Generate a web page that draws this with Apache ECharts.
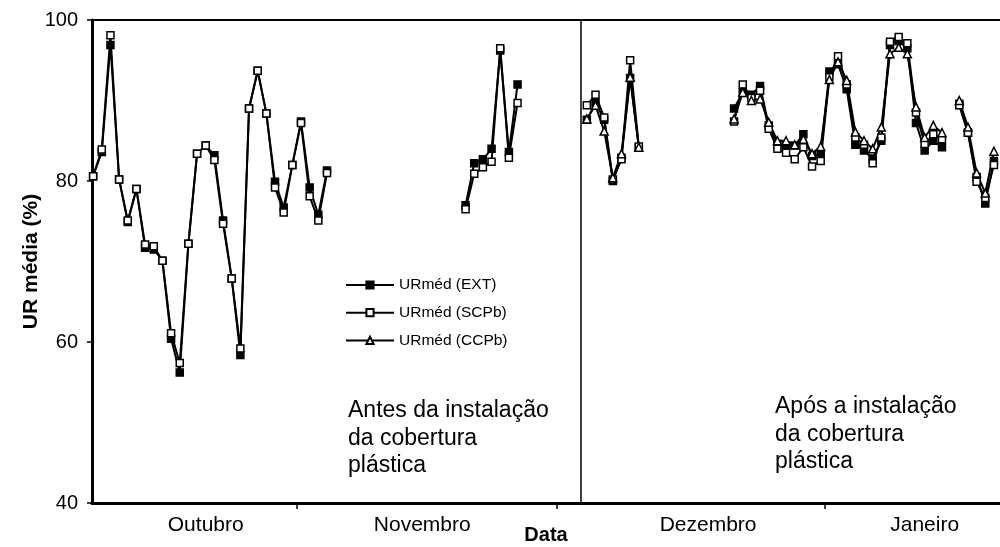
<!DOCTYPE html>
<html>
<head>
<meta charset="utf-8">
<script src="https://cdn.jsdelivr.net/npm/echarts@6/dist/echarts.min.js"></script>
<style>
  html, body { margin: 0; padding: 0; background: #fff; }
  #chart { width: 1000px; height: 547px; }
</style>
</head>
<body>
<div id="chart"></div>
<script>
// Day of season: 1 = 1 October; points sit on their day number.
const days = [
  8, 9, 10, 11, 12, 13, 14, 15, 16, 17, 18, 19, 20, 21, 22, 23, 24, 25, 26, 27, 28, 29, 30, 31, 32, 33, 34, 35,
  51, 52, 53, 54, 55, 56, 57,
  65, 66, 67, 68, 69, 70, 71,
  82, 83, 84, 85, 86, 87, 88, 89, 90, 91, 92, 93, 94, 95, 96, 97, 98, 99, 100, 101, 102, 103, 104, 105, 106,
  108, 109, 110, 111, 112
];

// Mean relative humidity (%), outside (EXT)
const urExt = [
  80.6, 83.6, 96.9, 80.2, 74.9, 79.0, 71.7, 71.5, 70.1, 60.4, 56.2, 72.2, 83.4, 84.4, 83.2, 75.1, 67.9, 58.4, 89.0, 93.7, 88.4, 79.9, 76.7, 82.0, 87.4, 79.2, 75.8, 81.3,
  77.0, 82.2, 82.7, 84.0, 96.2, 83.6, 92.0,
  87.6, 89.7, 87.6, 80.0, 82.9, 92.8, 84.2,
  89.0, 91.0, 90.7, 91.8, 86.9, 84.6, 84.4, 84.4, 85.8, 83.1, 83.3, 93.6, 94.5, 91.4, 84.5, 83.8, 82.8, 85.0, 96.9, 97.4, 96.5, 87.2, 83.8, 85.0, 84.2,
  89.6, 86.0, 80.5, 77.2, 82.5
];

// Mean relative humidity (%), SCPb
const urScpb = [
  80.6, 83.9, 98.1, 80.2, 75.1, 79.0, 72.1, 71.9, 70.1, 61.1, 57.4, 72.2, 83.4, 84.4, 82.6, 74.7, 67.9, 59.2, 89.0, 93.7, 88.4, 79.2, 76.1, 82.0, 87.2, 78.1, 75.1, 81.0,
  76.5, 80.9, 81.7, 82.4, 96.5, 82.9, 89.7,
  89.4, 90.7, 87.9, 80.2, 82.7, 95.0, 84.3,
  87.4, 92.0, 90.3, 91.2, 86.5, 84.0, 83.5, 82.7, 84.2, 81.8, 82.5, 92.9, 95.5, 92.0, 85.4, 84.5, 82.2, 85.4, 97.3, 97.9, 97.1, 88.5, 84.6, 85.8, 85.2,
  89.4, 86.0, 79.9, 77.9, 82.0
];

// Mean relative humidity (%), CCPb (only after the cover went up)
const urCcpb = [
  null, null, null, null, null, null, null, null, null, null, null, null, null, null, null, null, null, null, null, null, null, null, null, null, null, null, null, null,
  null, null, null, null, null, null, null,
  87.7, 89.4, 86.2, 80.4, 83.4, 92.9, 84.2,
  87.7, 91.0, 90.0, 90.2, 87.3, 85.0, 85.0, 84.5, 85.2, 83.4, 84.3, 92.6, 94.8, 92.5, 86.1, 85.0, 84.0, 86.7, 95.8, 96.6, 95.8, 89.2, 85.4, 86.9, 86.0,
  90.0, 86.7, 81.0, 78.5, 83.7
];

const seriesNames = ['URméd (EXT)', 'URméd (SCPb)', 'URméd (CCPb)'];
const monthNames = ['Outubro', 'Novembro', 'Dezembro', 'Janeiro'];
const monthLabelDays = [21, 46, 79, 104];
const monthStartDays = [31.5, 61.5, 92.5];
const yTicks = [40, 60, 80, 100];
const installDay = 64.3;

const FONT = "'Liberation Sans', Arial, sans-serif";

// Pair days with values; a missing day breaks the line.
function buildData(values) {
  const out = [];
  for (let i = 0; i < days.length; i++) {
    if (i > 0 && days[i] - days[i - 1] > 1) {
      out.push([(days[i] + days[i - 1]) / 2, null]);
    }
    out.push([days[i], values[i]]);
  }
  return out;
}

function lineSeries(name, values, symbol, fill, extra) {
  return Object.assign({
    name: name,
    type: 'line',
    data: buildData(values),
    symbol: symbol,
    symbolSize: symbol === 'triangle' ? 8 : 7,
    showAllSymbol: true,
    connectNulls: false,
    animation: false,
    lineStyle: { color: '#000', width: 2 },
    itemStyle: { color: fill, borderColor: '#000', borderWidth: 1.5 },
    emphasis: { disabled: true }
  }, extra || {});
}

const chart = echarts.init(document.getElementById('chart'), null, { renderer: 'canvas' });

chart.setOption({
  backgroundColor: '#fff',
  animation: false,
  grid: { left: 92, top: 20, right: 0, bottom: 44, containLabel: false, outerBoundsMode: 'none' },
  legend: {
    data: seriesNames,
    orient: 'vertical',
    left: 345,
    top: 277,
    padding: 0,
    itemWidth: 48,
    itemHeight: 9,
    itemGap: 11.7,
    textStyle: { fontFamily: FONT, fontSize: 15.5, color: '#000' },
    selectedMode: false
  },
  xAxis: [{
    type: 'value',
    min: 7.87,
    max: 112.7,
    name: 'Data',
    nameLocation: 'middle',
    nameGap: 22,
    nameMoveOverlap: false,
    nameTextStyle: { fontFamily: FONT, fontSize: 20, fontWeight: 'bold', color: '#000' },
    splitLine: { show: false },
    axisLine: { show: true, lineStyle: { color: '#000', width: 3 } },
    axisTick: { show: true, customValues: monthStartDays, length: 6, lineStyle: { color: '#000', width: 1.5 } },
    axisLabel: {
      customValues: monthLabelDays,
      margin: 12,
      fontFamily: FONT, fontSize: 21, color: '#000',
      formatter: function (v) {
        const i = monthLabelDays.indexOf(v);
        return i >= 0 ? monthNames[i] : '';
      }
    }
  }, {
    type: 'value',
    position: 'top',
    min: 7.87,
    max: 112.7,
    axisLine: { show: true, lineStyle: { color: '#000', width: 2 } },
    axisTick: { show: false },
    axisLabel: { show: false },
    splitLine: { show: false }
  }],
  yAxis: {
    type: 'value',
    min: 40,
    max: 100,
    interval: 20,
    name: 'UR média (%)',
    nameLocation: 'middle',
    nameGap: 50,
    nameMoveOverlap: false,
    nameTextStyle: { fontFamily: FONT, fontSize: 21, fontWeight: 'bold', color: '#000' },
    splitLine: { show: false },
    axisLine: { show: true, lineStyle: { color: '#000', width: 3 } },
    axisTick: { show: true, inside: false, length: 5, lineStyle: { color: '#000', width: 1.5 } },
    axisLabel: {
      margin: 14, fontFamily: FONT, fontSize: 20, color: '#000',
      formatter: function (v) { return yTicks.indexOf(v) >= 0 ? String(v) : ''; }
    }
  },
  series: [
    lineSeries(seriesNames[0], urExt, 'rect', '#000', {
      markLine: {
        silent: true,
        symbol: ['none', 'none'],
        label: { show: false },
        lineStyle: { color: '#000', width: 1.5, type: 'solid' },
        data: [{ xAxis: installDay }]
      }
    }),
    lineSeries(seriesNames[1], urScpb, 'rect', '#fff'),
    lineSeries(seriesNames[2], urCcpb, 'triangle', '#fff')
  ],
  graphic: [
    {
      type: 'text', left: 348, top: 397,
      style: {
        text: 'Antes da instalação\nda cobertura\nplástica',
        font: '23px ' + FONT, fill: '#000', lineHeight: 27.5
      }
    },
    {
      type: 'text', left: 775, top: 393,
      style: {
        text: 'Após a instalação\nda cobertura\nplástica',
        font: '23px ' + FONT, fill: '#000', lineHeight: 27.5
      }
    }
  ]
});
</script>
</body>
</html>
